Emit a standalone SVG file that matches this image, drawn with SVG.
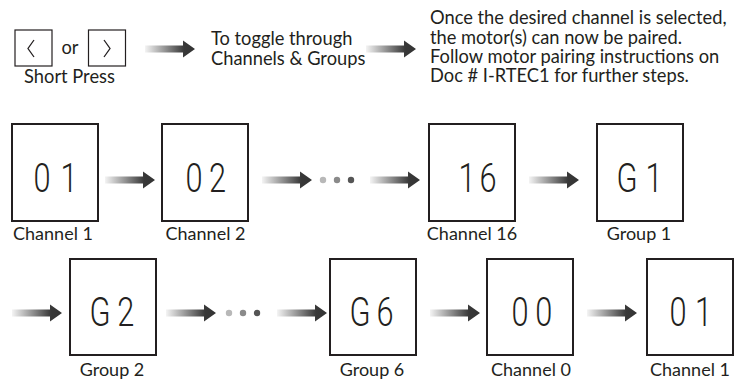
<svg xmlns="http://www.w3.org/2000/svg" xmlns:xlink="http://www.w3.org/1999/xlink" width="747" height="381" viewBox="0 0 747 381">
<style>
.box{fill:#fff;stroke:#231f20;stroke-width:2}
.btn{fill:#fff;stroke:#231f20;stroke-width:1.2}
.chev{fill:none;stroke:#231f20;stroke-width:1.3}
.lbl{font-family:Lato,"Liberation Sans",sans-serif;font-size:18px;fill:#231f20;text-anchor:middle}
.txt{font-family:Lato,"Liberation Sans",sans-serif;font-size:18.3px;fill:#231f20}
.seg{font-family:Roboto,"DejaVu Sans",sans-serif;font-weight:300;font-size:41px;fill:#231f20;text-anchor:middle}
</style>
<defs>
<linearGradient id="g" x1="0" y1="0" x2="1" y2="0">
<stop offset="0" stop-color="#f4f4f4"/>
<stop offset="0.78" stop-color="#383838"/>
<stop offset="1" stop-color="#333"/>
</linearGradient>
<path id="arr" d="M0,-3.5 H38 V-8.5 L50,0 L38,8.5 V3.5 H0 Z" fill="url(#g)"/>
</defs>
<rect width="747" height="381" fill="#fff"/>

<g id="legend">
<rect class="btn" x="15" y="30" width="37" height="36"/>
<polyline class="chev" points="34,40 28,48.5 34,57"/>
<text class="txt" x="70" y="54" text-anchor="middle">or</text>
<rect class="btn" x="88.5" y="30" width="37" height="36"/>
<polyline class="chev" points="104,40 110,48.5 104,57"/>
<text class="txt" x="69.5" y="83" text-anchor="middle">Short Press</text>
</g>
<g id="toggle">
<text class="txt" x="211" y="45">To toggle through</text>
<text class="txt" x="211" y="65">Channels &amp; Groups</text>
</g>
<g id="note">
<text class="txt" x="430" y="24">Once the desired channel is selected,</text>
<text class="txt" x="430" y="43.5">the motor(s) can now be paired.</text>
<text class="txt" x="430" y="62.5">Follow motor pairing instructions on</text>
<text class="txt" x="430" y="82">Doc # I-RTEC1 for further steps.</text>
</g>

<g id="connectors">
<use href="#arr" x="145" y="49"/>
<use href="#arr" x="366" y="49"/>
<use href="#arr" x="105" y="180"/>
<use href="#arr" x="262" y="180"/>
<use href="#arr" x="370" y="180"/>
<use href="#arr" x="529" y="180"/>
<use href="#arr" x="12" y="313"/>
<use href="#arr" x="166" y="313"/>
<use href="#arr" x="277" y="313"/>
<use href="#arr" x="430" y="313"/>
<use href="#arr" x="587" y="313"/>
<circle cx="323" cy="180" r="3.2" fill="#b8b8b8"/>
<circle cx="337" cy="180" r="3.2" fill="#8a8a8a"/>
<circle cx="351" cy="180" r="3.2" fill="#555"/>
<circle cx="229" cy="313" r="3.2" fill="#b8b8b8"/>
<circle cx="243" cy="313" r="3.2" fill="#8a8a8a"/>
<circle cx="257" cy="313" r="3.2" fill="#555"/>
</g>

<g id="ch1">
<rect class="box" x="12" y="124" width="86" height="97"/>
<text class="seg" transform="scale(0.75,1)" x="56 92" y="192.5">01</text>
<text class="lbl" x="53" y="240">Channel 1</text>
</g>
<g id="ch2">
<rect class="box" x="162" y="124" width="86" height="97"/>
<text class="seg" transform="scale(0.75,1)" x="258.7 290" y="192.5">02</text>
<text class="lbl" x="205.5" y="240">Channel 2</text>
</g>
<g id="ch16">
<rect class="box" x="429" y="124" width="86" height="97"/>
<text class="seg" transform="scale(0.75,1)" x="622.7 650.7" y="192.5">16</text>
<text class="lbl" x="472" y="240">Channel 16</text>
</g>
<g id="gr1">
<rect class="box" x="597" y="124" width="86" height="97"/>
<text class="seg" transform="scale(0.75,1)" x="836 872" y="192.5">G1</text>
<text class="lbl" x="639" y="240">Group 1</text>
</g>
<g id="gr2">
<rect class="box" x="70" y="259" width="86" height="96"/>
<text class="seg" transform="scale(0.75,1)" x="133.3 167.6" y="326">G2</text>
<text class="lbl" x="112" y="376">Group 2</text>
</g>
<g id="gr6">
<rect class="box" x="330" y="259" width="86" height="96"/>
<text class="seg" transform="scale(0.75,1)" x="480 513.3" y="326">G6</text>
<text class="lbl" x="372" y="376">Group 6</text>
</g>
<g id="ch0">
<rect class="box" x="487" y="259" width="86" height="96"/>
<text class="seg" transform="scale(0.75,1)" x="693.3 725" y="326">00</text>
<text class="lbl" x="531" y="376">Channel 0</text>
</g>
<g id="ch1b">
<rect class="box" x="647" y="259" width="86" height="96"/>
<text class="seg" transform="scale(0.75,1)" x="904 938" y="326">01</text>
<text class="lbl" x="690" y="376">Channel 1</text>
</g>
</svg>
